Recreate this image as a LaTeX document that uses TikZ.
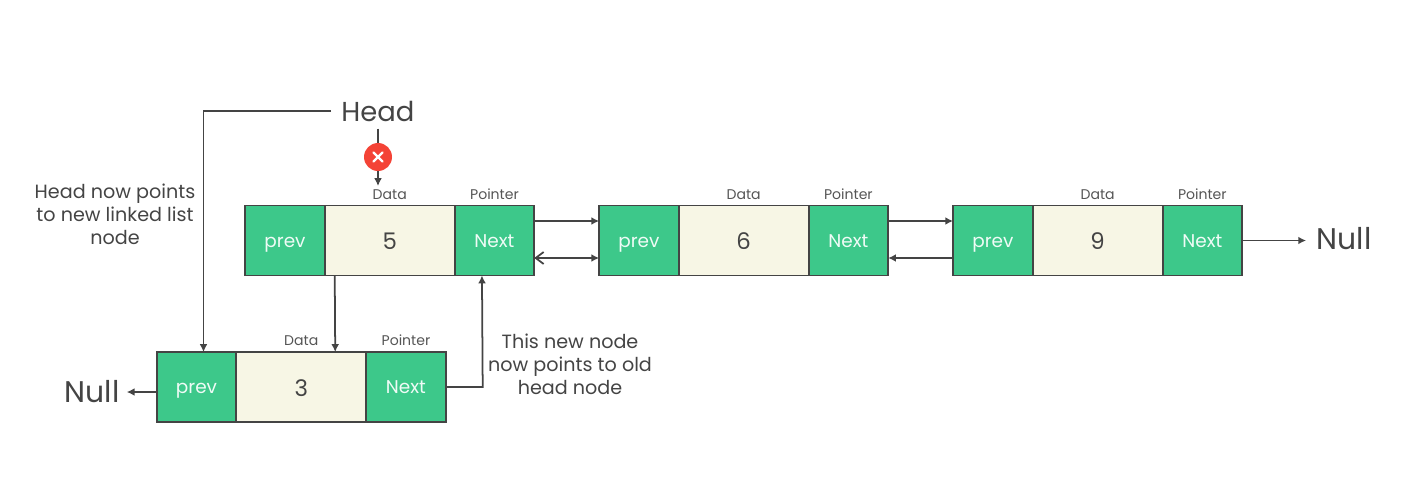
\documentclass[tikz,border=0pt]{standalone}
\usepackage{fontspec}
\setmainfont{Poppins}
\usepackage{xcolor}
\usetikzlibrary{positioning,arrows.meta}
\definecolor{cellgreen}{HTML}{3DC88A}
\definecolor{cellcream}{HTML}{F7F6E5}
\definecolor{inkgray}{HTML}{444444}
\definecolor{taggray}{HTML}{555555}
\definecolor{crossred}{HTML}{F44336}
\tikzset{
	ptrcell/.style={draw=inkgray, line width=1.1pt, fill=cellgreen, text=white!92!cellgreen, minimum width=1.59cm, minimum height=1.4cm, inner sep=0pt, outer sep=0pt, text height=7.6pt, text depth=0pt, font=\fontsize{10.5}{12}\selectfont},
	datacell/.style={ptrcell, fill=cellcream, text=inkgray, minimum width=2.6cm, text height=10.5pt, font=\fontsize{13}{15}\selectfont},
	tag/.style={text=taggray, inner sep=0pt, font=\fontsize{8}{9}\selectfont},
	bigtext/.style={text=inkgray, inner sep=0pt, font=\fontsize{15.6}{18}\selectfont},
	nulltext/.style={bigtext, font=\fontsize{17}{20}\selectfont},
	note/.style={text=inkgray, inner sep=0pt, align=center, font=\fontsize{10.9}{13}\selectfont},
	link/.style={draw=inkgray, line width=1pt, -{Latex[length=2.6mm,width=2.6mm,scale=0.6]}},
}
\begin{document}
\begin{tikzpicture}[x=0.02cm, y=-0.02cm]
	\useasboundingbox (0,0) rectangle (1410,490);

	% top row
	\node[ptrcell] (prev5) at (285,240.5) {prev};
	\node[datacell, right=0pt of prev5] (data5) {5};
	\node[ptrcell, right=0pt of data5] (next5) {Next};
	\node[tag, above=3.2pt of data5] (tagdata5) {Data};
	\node[tag, above=3.2pt of next5] (tagnext5) {Pointer};

	\node[ptrcell, right=1.3cm of next5] (prev6) {prev};
	\node[datacell, right=0pt of prev6] (data6) {6};
	\node[ptrcell, right=0pt of data6] (next6) {Next};
	\node[tag, above=3.2pt of data6] (tagdata6) {Data};
	\node[tag, above=3.2pt of next6] (tagnext6) {Pointer};

	\node[ptrcell, right=1.3cm of next6] (prev9) {prev};
	\node[datacell, right=0pt of prev9] (data9) {9};
	\node[ptrcell, right=0pt of data9] (next9) {Next};
	\node[tag, above=3.2pt of data9] (tagdata9) {Data};
	\node[tag, above=3.2pt of next9] (tagnext9) {Pointer};

	% new node
	\node[ptrcell] (prev3) at (196.5,387) {prev};
	\node[datacell, right=0pt of prev3] (data3) {3};
	\node[ptrcell, right=0pt of data3] (next3) {Next};
	\node[tag, above=3.2pt of data3] (tagdata3) {Data};
	\node[tag, above=3.2pt of next3] (tagnext3) {Pointer};

	\node[bigtext] (head) at (378,111) {Head};
	\node[nulltext] (nullright) at (1344,239) {Null};
	\node[nulltext] (nullleft) at (92,392) {Null};
	\node[note] (notehead) at (115,214) {Head now points\\to new linked list\\node};
	\node[note] (notenew) at (570,364) {This new node\\now points to old\\head node};

	\node[circle, fill=crossred, minimum size=0.56cm, inner sep=0pt] (cross) at (378,157) {};
	\draw[white, line width=1.3pt, line cap=round] ([shift={(-4.5,-4.5)}]cross.center) -- ([shift={(4.5,4.5)}]cross.center);
	\draw[white, line width=1.3pt, line cap=round] ([shift={(-4.5,4.5)}]cross.center) -- ([shift={(4.5,-4.5)}]cross.center);
	\coordinate (crossend) at (378,186);

	% links
	\draw[link, -] ([yshift=-0.14cm]head.south) -- (cross.north);
	\draw[link] (cross.south) -- (crossend);
	\draw[link] ([xshift=-0.2cm]head.west) -| ([xshift=0.14cm]prev3.north);
	\draw[link] ([xshift=-1.1cm]data5.south) -- ([xshift=0.68cm]data3.north);
	\draw[link] (next3.east) -- ++(37,0) -- ([xshift=-0.25cm]next5.south);

	\draw[link] ([yshift=0.39cm]next5.east) -- ([yshift=0.39cm]prev6.west);
	\draw[link, {Straight Barb[length=1.6mm,width=2.4mm]}-{Latex[length=2.6mm,width=2.6mm,scale=0.6]}] ([yshift=-0.35cm]next5.east) -- ([yshift=-0.35cm]prev6.west);
	\draw[link] ([yshift=0.39cm]next6.east) -- ([yshift=0.39cm]prev9.west);
	\draw[link] ([yshift=-0.35cm]prev9.west) -- ([yshift=-0.35cm]next6.east);

	\draw[link] (next9.east) -- ++(64,0);
	\draw[link] ([yshift=-0.1cm]prev3.west) -- ++(-30,0);
\end{tikzpicture}
\end{document}
